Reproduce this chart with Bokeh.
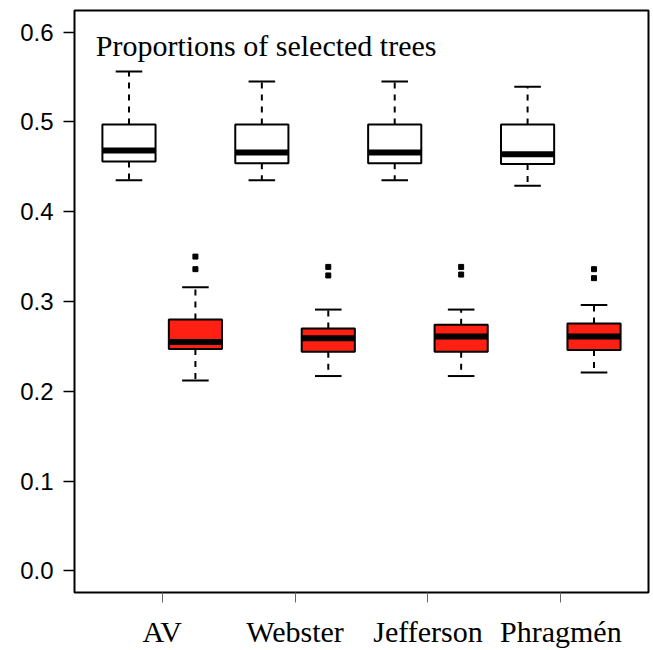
from bokeh.plotting import figure
from bokeh.models import FixedTicker, Label, ColumnDataSource, Range1d, NumeralTickFormatter
from bokeh.embed import file_html
from bokeh.resources import INLINE

methods = ["AV", "Webster", "Jefferson", "Phragmén"]
title_text = "Proportions of selected trees"

# white boxes
white_lower = [0.435, 0.435, 0.435, 0.429]
white_q1 = [0.456, 0.454, 0.454, 0.453]
white_med = [0.468, 0.466, 0.466, 0.464]
white_q3 = [0.497, 0.497, 0.497, 0.497]
white_upper = [0.556, 0.545, 0.545, 0.539]
white_outliers = [[], [], [], []]

# red boxes
red_lower = [0.212, 0.217, 0.217, 0.221]
red_q1 = [0.247, 0.244, 0.244, 0.246]
red_med = [0.255, 0.259, 0.261, 0.261]
red_q3 = [0.280, 0.270, 0.274, 0.2755]
red_upper = [0.316, 0.291, 0.291, 0.296]
red_outliers = [[0.350, 0.336], [0.3385, 0.329], [0.3385, 0.330], [0.336, 0.326]]

y_ticks = [0.0, 0.1, 0.2, 0.3, 0.4, 0.5, 0.6]

RED = "#FE2012"
BOXW = 0.8
CAPW = 0.4

p = figure(width=653, height=650, output_backend="svg", toolbar_location=None,
           x_range=Range1d(0.18, 8.82), y_range=Range1d(-0.024, 0.624),
           min_border_left=74, min_border_right=5, min_border_top=10, min_border_bottom=57)
p.background_fill_color = "white"
p.border_fill_color = "white"
p.outline_line_color = "black"
p.outline_line_width = 2
p.xgrid.visible = False
p.ygrid.visible = False

def draw(offset, lower, q1, med, q3, upper, outs, fill):
    xs = [2 * i + offset for i in range(len(methods))]
    src = ColumnDataSource(dict(
        x=xs, x0=[x - BOXW / 2 for x in xs], x1=[x + BOXW / 2 for x in xs],
        c0=[x - CAPW / 2 for x in xs], c1=[x + CAPW / 2 for x in xs],
        lower=lower, q1=q1, med=med, q3=q3, upper=upper))
    p.segment(x0="x", x1="x", y0="q3", y1="upper", source=src, line_color="black",
              line_width=2, line_dash="6 6")
    p.segment(x0="x", x1="x", y0="q1", y1="lower", source=src, line_color="black",
              line_width=2, line_dash="6 6")
    p.segment(x0="c0", x1="c1", y0="upper", y1="upper", source=src, line_color="black", line_width=2)
    p.segment(x0="c0", x1="c1", y0="lower", y1="lower", source=src, line_color="black", line_width=2)
    p.vbar(x="x", width=BOXW, bottom="q1", top="q3", source=src, fill_color=fill,
           line_color="black", line_width=2)
    p.segment(x0="x0", x1="x1", y0="med", y1="med", source=src, line_color="black",
              line_width=6, line_cap="butt")
    ox, oy = [], []
    for x, o in zip(xs, outs):
        for v in o:
            ox.append(x)
            oy.append(v)
    if ox:
        p.scatter(ox, oy, marker="square", size=5, fill_color="black", line_color="black")

draw(1, white_lower, white_q1, white_med, white_q3, white_upper, white_outliers, "white")
draw(2, red_lower, red_q1, red_med, red_q3, red_upper, red_outliers, RED)

# y axis
p.yaxis.ticker = FixedTicker(ticks=y_ticks)
p.yaxis.formatter = NumeralTickFormatter(format="0.0")
p.yaxis.axis_line_color = None
p.yaxis.major_tick_in = 0
p.yaxis.major_tick_out = 11
p.yaxis.major_tick_line_width = 1.5
p.yaxis.minor_tick_line_color = None
p.yaxis.major_label_standoff = 10
p.yaxis.major_label_text_font = "Liberation Sans"
p.yaxis.major_label_text_font_size = "24px"
p.yaxis.major_label_text_color = "black"

# x axis
tick_pos = [2 * i + 1.5 for i in range(len(methods))]
p.xaxis.ticker = FixedTicker(ticks=tick_pos)
p.xaxis.major_label_overrides = {t: m for t, m in zip(tick_pos, methods)}
p.xaxis.axis_line_color = None
p.xaxis.major_tick_in = 0
p.xaxis.major_tick_out = 10
p.xaxis.major_tick_line_color = "#666666"
p.xaxis.major_tick_line_width = 1
p.xaxis.minor_tick_line_color = None
p.xaxis.major_label_standoff = 12
p.xaxis.major_label_text_font = "Liberation Serif"
p.xaxis.major_label_text_font_size = "30px"
p.xaxis.major_label_text_color = "black"

p.add_layout(Label(x=0.5, y=0.585, text=title_text, text_align="left",
                   text_baseline="alphabetic", text_font="Liberation Serif",
                   text_font_size="30px", text_color="black"))

open("out.html", "w").write(file_html(p, INLINE))
